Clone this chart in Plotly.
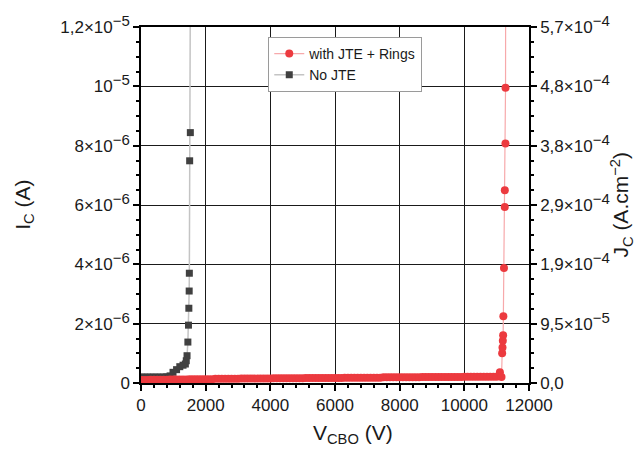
import plotly.graph_objects as go

# ---------------- data ----------------
nojte_v = [0, 100, 200, 300, 400, 500, 600, 700, 800, 900, 990, 1100, 1200, 1300,
           1372, 1400, 1424, 1450, 1468, 1480, 1490, 1495, 1505, 1526, 1532]
nojte_i = [0.20e-6, 0.20e-6, 0.20e-6, 0.20e-6, 0.20e-6, 0.20e-6, 0.20e-6, 0.20e-6, 0.21e-6, 0.24e-6,
           0.36e-6, 0.45e-6, 0.55e-6, 0.60e-6, 0.64e-6, 0.75e-6, 0.92e-6, 1.38e-6, 1.95e-6, 2.52e-6,
           3.10e-6, 3.70e-6, 7.49e-6, 8.44e-6, 1.5e-5]

jte_v = [0, 100, 200, 300, 400, 500, 600, 700, 800, 900,
         1000, 1100, 1200, 1300, 1400, 1500, 1600, 1700, 1800, 1900,
         2000, 2100, 2200, 2300, 2400, 2500, 2600, 2700, 2800, 2900,
         3000, 3100, 3200, 3300, 3400, 3500, 3600, 3700, 3800, 3900,
         4000, 4100, 4200, 4300, 4400, 4500, 4600, 4700, 4800, 4900,
         5000, 5100, 5200, 5300, 5400, 5500, 5600, 5700, 5800, 5900,
         6000, 6100, 6200, 6300, 6400, 6500, 6600, 6700, 6800, 6900,
         7000, 7100, 7200, 7300, 7400, 7500, 7600, 7700, 7800, 7900,
         8000, 8100, 8200, 8300, 8400, 8500, 8600, 8700, 8800, 8900,
         9000, 9100, 9200, 9300, 9400, 9500, 9600, 9700, 9800, 9900,
         10000, 10100, 10200, 10300, 10400, 10500, 10600, 10700, 10800, 10900,
         11000, 11100, 11150, 11170, 11180, 11190, 11200, 11207, 11226, 11250,
         11252, 11272, 11274, 11280]
jte_i = [0.10e-6, 0.10e-6, 0.10e-6, 0.11e-6, 0.11e-6, 0.11e-6, 0.11e-6, 0.11e-6, 0.11e-6, 0.12e-6,
         0.12e-6, 0.12e-6, 0.12e-6, 0.12e-6, 0.12e-6, 0.13e-6, 0.13e-6, 0.13e-6, 0.13e-6, 0.13e-6,
         0.13e-6, 0.13e-6, 0.13e-6, 0.14e-6, 0.14e-6, 0.14e-6, 0.14e-6, 0.14e-6, 0.14e-6, 0.14e-6,
         0.14e-6, 0.15e-6, 0.15e-6, 0.15e-6, 0.15e-6, 0.15e-6, 0.15e-6, 0.15e-6, 0.15e-6, 0.15e-6,
         0.15e-6, 0.16e-6, 0.16e-6, 0.16e-6, 0.16e-6, 0.16e-6, 0.16e-6, 0.16e-6, 0.16e-6, 0.16e-6,
         0.16e-6, 0.17e-6, 0.17e-6, 0.17e-6, 0.17e-6, 0.17e-6, 0.17e-6, 0.17e-6, 0.17e-6, 0.17e-6,
         0.17e-6, 0.17e-6, 0.17e-6, 0.18e-6, 0.18e-6, 0.18e-6, 0.18e-6, 0.18e-6, 0.18e-6, 0.18e-6,
         0.18e-6, 0.18e-6, 0.18e-6, 0.18e-6, 0.18e-6, 0.19e-6, 0.19e-6, 0.19e-6, 0.19e-6, 0.19e-6,
         0.19e-6, 0.19e-6, 0.19e-6, 0.19e-6, 0.19e-6, 0.19e-6, 0.19e-6, 0.20e-6, 0.20e-6, 0.20e-6,
         0.20e-6, 0.20e-6, 0.20e-6, 0.20e-6, 0.20e-6, 0.20e-6, 0.20e-6, 0.20e-6, 0.20e-6, 0.20e-6,
         0.21e-6, 0.21e-6, 0.21e-6, 0.21e-6, 0.21e-6, 0.21e-6, 0.21e-6, 0.21e-6, 0.21e-6, 0.21e-6,
         0.21e-6, 0.36e-6, 0.20e-6, 1.00e-6, 1.20e-6, 1.42e-6, 1.61e-6, 2.25e-6, 3.88e-6, 5.93e-6,
         6.50e-6, 8.07e-6, 9.95e-6, 1.5e-5]

JTE_AREA_CM2 = 0.02105   # device area used for the current-density axis
jte_j = [i / JTE_AREA_CM2 for i in jte_i]

SUP = '<span style="font-size:15px;baseline-shift:45%">{}</span>'
left_tickvals = [0, 2e-6, 4e-6, 6e-6, 8e-6, 1e-5, 1.2e-5]
left_ticktext = ["0", "2×10" + SUP.format("−6"), "4×10" + SUP.format("−6"), "6×10" + SUP.format("−6"),
                 "8×10" + SUP.format("−6"), "10" + SUP.format("−5"), "1,2×10" + SUP.format("−5")]
right_tickvals = [v / JTE_AREA_CM2 for v in left_tickvals]
right_ticktext = ["0,0", "9,5×10" + SUP.format("−5"), "1,9×10" + SUP.format("−4"), "2,9×10" + SUP.format("−4"),
                  "3,8×10" + SUP.format("−4"), "4,8×10" + SUP.format("−4"), "5,7×10" + SUP.format("−4")]

FONT = "Arial, Liberation Sans, sans-serif"
TXT = "#1a1a1a"

fig = go.Figure()
fig.add_trace(go.Scatter(
    x=nojte_v, y=nojte_i, mode="lines+markers", name="No JTE", legendrank=2,
    line=dict(color="#c4c4c4", width=1.5),
    marker=dict(symbol="square", size=7, color="#404040"),
    xaxis="x", yaxis="y",
))
fig.add_trace(go.Scatter(
    x=jte_v, y=jte_j, mode="lines+markers", name="with JTE + Rings", legendrank=1,
    line=dict(color="#f7a9ab", width=1.2),
    marker=dict(symbol="circle", size=8, color="#ec3a3f"),
    xaxis="x", yaxis="y2",
))

axis_common = dict(showline=True, linecolor="black", linewidth=1.5,
                   tickfont=dict(family=FONT, size=17, color=TXT),
                   zeroline=False)

fig.update_layout(
    width=636, height=456,
    margin=dict(l=141, r=107, t=21, b=73),
    paper_bgcolor="white", plot_bgcolor="white",
    font=dict(family=FONT, color=TXT),
    showlegend=True,
    legend=dict(x=0.328, y=0.972, xanchor="left", yanchor="top",
                bgcolor="white", bordercolor="#9a9a9a", borderwidth=1,
                font=dict(family=FONT, size=14, color=TXT),
                tracegroupgap=0, itemwidth=30),
    xaxis=dict(range=[0, 12000], tickmode="linear", tick0=0, dtick=2000, tickformat="d",
               ticks="outside", ticklen=6, tickwidth=1.5, tickcolor="black", mirror=True,
               minor=dict(ticks="outside", ticklen=3, dtick=400, tick0=0, tickcolor="black", showgrid=False),
               showgrid=True, gridcolor="#1a1a1a", gridwidth=1,
               **axis_common),
    yaxis=dict(range=[0, 1.2e-5], tickmode="array", tickvals=left_tickvals, ticktext=left_ticktext,
               ticks="outside", ticklen=6, tickwidth=1.5, tickcolor="black",
               minor=dict(ticks="outside", ticklen=3, dtick=5e-7, tick0=0, tickcolor="black", showgrid=False),
               showgrid=True, gridcolor="#1a1a1a", gridwidth=1,
               **axis_common),
    yaxis2=dict(range=[0, 1.2e-5 / JTE_AREA_CM2], overlaying="y", side="right", anchor="x",
                tickmode="array", tickvals=right_tickvals, ticktext=right_ticktext,
                ticks="outside", ticklen=6, tickwidth=1.5, tickcolor="black",
                minor=dict(ticks="outside", ticklen=3, dtick=1.2e-5 / JTE_AREA_CM2 / 24, tick0=0,
                           tickcolor="black", showgrid=False),
                showgrid=False,
                **axis_common),
    annotations=[
        dict(text="V<sub>CBO</sub> (V)", xref="paper", yref="paper", x=0.547, y=-0.142,
             xanchor="center", yanchor="middle", showarrow=False,
             font=dict(family=FONT, size=21, color=TXT)),
        dict(text="I<sub>C</sub> (A)", xref="paper", yref="paper", x=-0.302, y=0.5,
             xanchor="center", yanchor="middle", showarrow=False, textangle=-90,
             font=dict(family=FONT, size=21, color=TXT)),
        dict(text="J<sub>C</sub> (A.cm<sup>−2</sup>)", xref="paper", yref="paper", x=1.236, y=0.5,
             xanchor="center", yanchor="middle", showarrow=False, textangle=-90,
             font=dict(family=FONT, size=21, color=TXT)),
    ],
)

fig.write_html("out.html")
